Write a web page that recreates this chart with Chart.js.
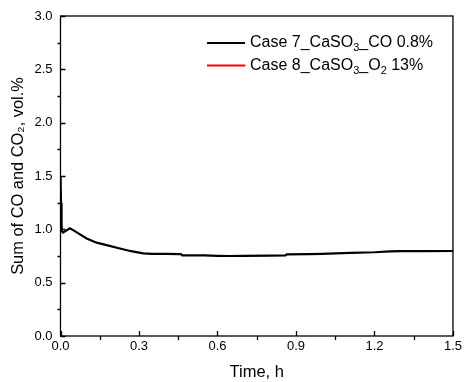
<!DOCTYPE html>
<html><head><meta charset="utf-8">
<script src="https://cdn.jsdelivr.net/npm/chart.js@4.4.1/dist/chart.umd.min.js"></script>
<style>html,body{margin:0;padding:0;background:#fff}#wrap{width:465px;height:382px}</style>
</head><body><div id="wrap"><canvas id="c" width="465" height="382"></canvas></div>
<script>
const timeCase7 = [0, 0.002, 0.004, 0.006, 0.01, 0.02, 0.036, 0.05, 0.07, 0.1, 0.138, 0.18, 0.227, 0.27, 0.316, 0.35, 0.4, 0.46, 0.465, 0.55, 0.6, 0.65, 0.7, 0.8, 0.86, 0.865, 0.95, 1.0, 1.05, 1.11, 1.2, 1.26, 1.3, 1.4, 1.5];
const valueCase7 = [1.5, 1.25, 1.05, 0.98, 0.97, 0.985, 1.01, 0.99, 0.96, 0.915, 0.875, 0.85, 0.82, 0.795, 0.775, 0.77, 0.77, 0.768, 0.756, 0.755, 0.752, 0.75, 0.752, 0.754, 0.756, 0.765, 0.767, 0.77, 0.775, 0.78, 0.785, 0.794, 0.795, 0.796, 0.797];
const timeCase8 = [];
const valueCase8 = [];
const xTicks = [0, 0.3, 0.6, 0.9, 1.2, 1.5];
const yTicks = [0, 0.5, 1.0, 1.5, 2.0, 2.5, 3.0];
// legend labels split in [text, isSubscript] parts
const legendCase7 = [["Case 7_CaSO", false], ["3", true], ["_CO 0.8%", false]];
const legendCase8 = [["Case 8_CaSO", false], ["3", true], ["_O", false], ["2", true], [" 13%", false]];
const yTitle = "Sum of CO and CO\u2082, vol.%";
const xTitle = "Time, h";

const FONT = "Arial, 'Liberation Sans', sans-serif";

const toPts = (t, v) => t.map((x, i) => ({x: x, y: v[i]}));

const framePlugin = {
  id: 'frame',
  afterDraw(chart) {
    const ctx = chart.ctx, a = chart.chartArea;
    const xs = chart.scales.x, ys = chart.scales.y;
    ctx.save();
    ctx.strokeStyle = '#000';
    ctx.lineWidth = 1.3;
    ctx.strokeRect(a.left, a.top, a.right - a.left, a.bottom - a.top);
    ctx.lineWidth = 1.3;
    ctx.beginPath();
    xTicks.forEach((t, i) => {
      const px = Math.round(xs.getPixelForValue(t)) + 0.5;
      ctx.moveTo(px, a.bottom); ctx.lineTo(px, a.bottom - 5);
      if (i < xTicks.length - 1) {
        const m = Math.round(xs.getPixelForValue((t + xTicks[i + 1]) / 2)) + 0.5;
        ctx.moveTo(m, a.bottom); ctx.lineTo(m, a.bottom + 4);
      }
    });
    yTicks.forEach((t, i) => {
      const py = Math.round(ys.getPixelForValue(t)) + 0.5;
      ctx.moveTo(a.left, py); ctx.lineTo(a.left + 5, py);
      if (i < yTicks.length - 1) {
        const m = Math.round(ys.getPixelForValue((t + yTicks[i + 1]) / 2)) + 0.5;
        ctx.moveTo(a.left, m); ctx.lineTo(a.left - 3, m);
      }
    });
    ctx.stroke();

    // legend
    const items = [[legendCase7, chart.data.datasets[0].borderColor], [legendCase8, chart.data.datasets[1].borderColor]];
    items.forEach((it, k) => {
      const y = 43 + k * 22.5;
      ctx.strokeStyle = it[1];
      ctx.lineWidth = 2;
      ctx.beginPath(); ctx.moveTo(207, y); ctx.lineTo(245, y); ctx.stroke();
      let x = 250;
      ctx.fillStyle = '#000';
      ctx.textBaseline = 'middle';
      it[0].forEach(p => {
        if (p[1]) { ctx.font = '11px ' + FONT; ctx.fillText(p[0], x, y + 5); }
        else { ctx.font = '16px ' + FONT; ctx.fillText(p[0], x, y); }
        x += ctx.measureText(p[0]).width;
      });
    });
    ctx.restore();
  }
};

new Chart(document.getElementById('c'), {
  type: 'line',
  data: {
    datasets: [
      {label: 'Case 7', data: toPts(timeCase7, valueCase7), borderColor: '#000000', borderWidth: 2.2, pointRadius: 0, tension: 0, fill: false},
      {label: 'Case 8', data: toPts(timeCase8, valueCase8), borderColor: '#ff0000', borderWidth: 2.2, pointRadius: 0, tension: 0, fill: false}
    ]
  },
  options: {
    responsive: false,
    animation: false,
    layout: {padding: {left: 0, right: 12, top: 16, bottom: 0}},
    plugins: {legend: {display: false}, tooltip: {enabled: false}},
    scales: {
      x: {
        type: 'linear', min: 0, max: 1.5,
        afterBuildTicks: s => { s.ticks = xTicks.map(v => ({value: v})); },
        afterFit: s => { s.height = 46; },
        grid: {display: false, drawTicks: false},
        border: {display: false},
        ticks: {color: '#000', font: {family: FONT, size: 13}, padding: 3, maxRotation: 0, callback: v => v.toFixed(1)},
        title: {display: true, text: xTitle, color: '#000', font: {family: FONT, size: 16.5}, padding: {top: 4, bottom: 0}}
      },
      y: {
        type: 'linear', min: 0, max: 3,
        afterBuildTicks: s => { s.ticks = yTicks.map(v => ({value: v})); },
        afterFit: s => { s.width = 60.5; },
        grid: {display: false, drawTicks: false},
        border: {display: false},
        ticks: {color: '#000', font: {family: FONT, size: 13}, padding: 8, callback: v => v.toFixed(1)},
        title: {display: true, text: yTitle, color: '#000', font: {family: FONT, size: 16.4}, padding: {top: 8.5, bottom: 0}}
      }
    }
  },
  plugins: [framePlugin]
});
</script>
</body></html>
